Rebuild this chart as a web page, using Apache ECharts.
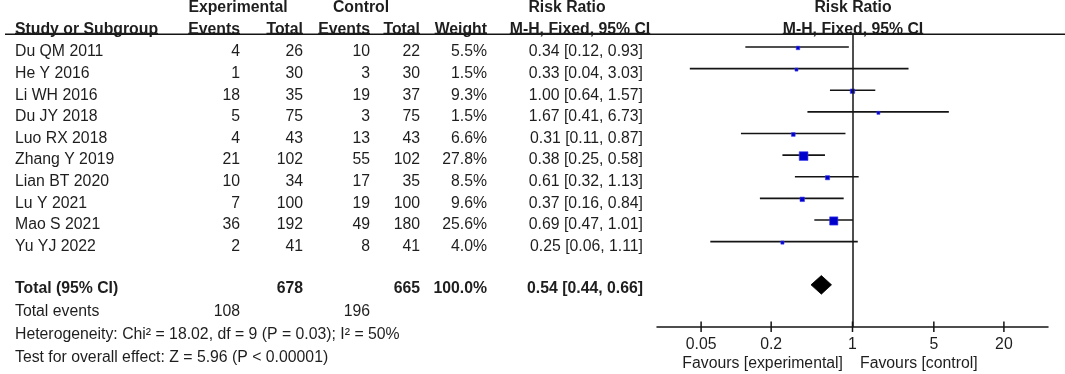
<!DOCTYPE html>
<html><head><meta charset="utf-8">
<script src="https://cdn.jsdelivr.net/npm/echarts@6/dist/echarts.min.js"></script>
<style>html,body{margin:0;padding:0;background:#fff}#c{width:1065px;height:374px}</style>
</head><body><div id="c"></div>
<script>
// ---------- data ----------
const studies = ['Du QM 2011','He Y 2016','Li WH 2016','Du JY 2018','Luo RX 2018','Zhang Y 2019','Lian BT 2020','Lu Y 2021','Mao S 2021','Yu YJ 2022'];
const expEvents = [4,1,18,5,4,21,10,7,36,2];
const expTotal = [26,30,35,75,43,102,34,100,192,41];
const ctrlEvents = [10,3,19,3,13,55,17,19,49,8];
const ctrlTotal = [22,30,37,75,43,102,35,100,180,41];
const weights = [5.5,1.5,9.3,1.5,6.6,27.8,8.5,9.6,25.6,4.0];
const riskRatio = [0.34,0.33,1.00,1.67,0.31,0.38,0.61,0.37,0.69,0.25];
const ciLow = [0.12,0.04,0.64,0.41,0.11,0.25,0.32,0.16,0.47,0.06];
const ciHigh = [0.93,3.03,1.57,6.73,0.87,0.58,1.13,0.84,1.01,1.11];
const totalRR = 0.54, totalLow = 0.44, totalHigh = 0.66;
const totalExpN = 678, totalCtrlN = 665, totalWeight = '100.0%';
const totalExpEvents = 108, totalCtrlEvents = 196;
const heterogeneityText = 'Heterogeneity: Chi² = 18.02, df = 9 (P = 0.03); I² = 50%';
const overallText = 'Test for overall effect: Z = 5.96 (P < 0.00001)';
const axisTicks = [0.05, 0.2, 1, 5, 20];
const axisTickLabels = ['0.05', '0.2', '1', '5', '20'];
const favoursLeft = 'Favours [experimental]';
const favoursRight = 'Favours [control]';

// ---------- style / layout ----------
const FONT = '"Liberation Sans", Arial, Helvetica, sans-serif';
const FS = 15.8;
const TXT = '#1e1e1e';
const BOX = '#0000CD';
const LINE = '#141414';
const fmtCI = (m, l, h) => m.toFixed(2) + ' [' + l.toFixed(2) + ', ' + h.toFixed(2) + ']';
const fontOf = bold => (bold ? 'bold ' : '') + FS + 'px ' + FONT;
const measureCtx = document.createElement('canvas').getContext('2d');
function textWidth(t, bold) { measureCtx.font = fontOf(bold); return measureCtx.measureText(t).width; }

// columns (table coordinate system x = pixel-like)
const COL = {name:15, expE:240, expN:303, ctrlE:370, ctrlN:420, w:487, ci:643, ciHead:580, rrHead:567, expHead:238, ctrlHead:361, forest:853};
// text rows
const R_HEAD1 = -2.035, R_HEAD2 = -1.04;
const R_TOTAL = 10.93, R_EVENTS = 12.03, R_HET = 13.06, R_TEST = 14.12, R_FAV = 14.4;

const cells = [];
function add(x, r, text, align, bold, underline) { cells.push({x, r, text: String(text), align, bold: !!bold, underline: !!underline}); }
// headers
add(COL.expHead, R_HEAD1, 'Experimental', 'center', true);
add(COL.ctrlHead, R_HEAD1, 'Control', 'center', true);
add(COL.rrHead, R_HEAD1, 'Risk Ratio', 'center', true);
add(COL.forest, R_HEAD1, 'Risk Ratio', 'center', true);
add(COL.name, R_HEAD2, 'Study or Subgroup', 'left', true, true);
add(COL.expE, R_HEAD2, 'Events', 'right', true, true);
add(COL.expN, R_HEAD2, 'Total', 'right', true, true);
add(COL.ctrlE, R_HEAD2, 'Events', 'right', true, true);
add(COL.ctrlN, R_HEAD2, 'Total', 'right', true, true);
add(COL.w, R_HEAD2, 'Weight', 'right', true, true);
add(COL.ciHead, R_HEAD2, 'M-H, Fixed, 95% CI', 'center', true, true);
add(COL.forest, R_HEAD2, 'M-H, Fixed, 95% CI', 'center', true, true);
// rows
studies.forEach((s, i) => {
  add(COL.name, i, s, 'left');
  add(COL.expE, i, expEvents[i], 'right');
  add(COL.expN, i, expTotal[i], 'right');
  add(COL.ctrlE, i, ctrlEvents[i], 'right');
  add(COL.ctrlN, i, ctrlTotal[i], 'right');
  add(COL.w, i, weights[i].toFixed(1) + '%', 'right');
  add(COL.ci, i, fmtCI(riskRatio[i], ciLow[i], ciHigh[i]), 'right');
});
add(COL.name, R_TOTAL, 'Total (95% CI)', 'left', true);
add(COL.expN, R_TOTAL, totalExpN, 'right', true);
add(COL.ctrlN, R_TOTAL, totalCtrlN, 'right', true);
add(COL.w, R_TOTAL, totalWeight, 'right', true);
add(COL.ci, R_TOTAL, fmtCI(totalRR, totalLow, totalHigh), 'right', true);
add(COL.name, R_EVENTS, 'Total events', 'left');
add(COL.expE, R_EVENTS, totalExpEvents, 'right');
add(COL.ctrlE, R_EVENTS, totalCtrlEvents, 'right');
add(COL.name, R_HET, heterogeneityText, 'left');
add(COL.name, R_TEST, overallText, 'left');
add(COL.forest - 10, R_FAV, favoursLeft, 'right');
add(COL.forest + 7, R_FAV, favoursRight, 'left');

function textEl(x, y, text, align, bold) {
  return {type:'text', x, y, style:{text, align, verticalAlign:'middle', fill:TXT, font:fontOf(bold)}};
}

const chart = echarts.init(document.getElementById('c'), null, {renderer:'canvas'});
const yMaxForest = 12.95;
const TOTAL_ROW = studies.length + 1;

const option = {
  backgroundColor:'#fff',
  animation:false,
  grid:[
    {left:657, right:17, top:34, bottom:47},
    {left:0, right:0, top:0, bottom:0}
  ],
  xAxis:[
    {type:'log', logBase:10, gridIndex:0, min:Math.pow(10,-1.68), max:Math.pow(10,1.68),
     axisLine:{show:true, onZero:false, lineStyle:{color:LINE, width:1.5}},
     axisTick:{show:false}, axisLabel:{show:false}, splitLine:{show:false}},
    {type:'value', gridIndex:1, min:0, max:1065, show:false}
  ],
  yAxis:[
    {type:'value', gridIndex:0, inverse:true, min:-0.6, max:yMaxForest, show:false},
    {type:'value', gridIndex:1, inverse:true, min:-2.405, max:14.893, show:false}
  ],
  graphic:[
    {type:'line', shape:{x1:5, y1:34.2, x2:1065, y2:34.2}, style:{stroke:LINE, lineWidth:1.6}, z:1}
  ],
  series:[
    {
      type:'custom', name:'studies', xAxisIndex:0, yAxisIndex:0,
      data: riskRatio.map((v, i) => [ciLow[i], ciHigh[i], v, i, weights[i]]),
      encode:{x:[0,1,2], y:3},
      renderItem(params, api) {
        const r = api.value(3);
        const a = api.coord([api.value(0), r]);
        const b = api.coord([api.value(1), r]);
        const c = api.coord([api.value(2), r]);
        const s = Math.max(3, 2.2 + 0.235 * api.value(4));
        return {type:'group', children:[
          {type:'line', shape:{x1:a[0], y1:a[1], x2:b[0], y2:b[1]}, style:{stroke:LINE, lineWidth:1.6}},
          {type:'rect', shape:{x:c[0]-s/2, y:c[1]-s/2+1, width:s, height:s}, style:{fill:BOX, stroke:'#3a3aee', lineWidth:0.6}}
        ]};
      },
      markLine:{silent:true, symbol:'none', label:{show:false},
        lineStyle:{color:LINE, width:1.5, type:'solid'}, data:[{xAxis:1}]}
    },
    {
      type:'custom', name:'total', xAxisIndex:0, yAxisIndex:0,
      data:[[totalLow, totalHigh, totalRR, TOTAL_ROW]],
      encode:{x:[0,1,2], y:3},
      renderItem(params, api) {
        const r = api.value(3);
        const a = api.coord([api.value(0), r]);
        const b = api.coord([api.value(1), r]);
        const c = api.coord([api.value(2), r]);
        const h = 9.3;
        return {type:'polygon', shape:{points:[[a[0], c[1]], [c[0], c[1]-h], [b[0], c[1]], [c[0], c[1]+h]]},
          style:{fill:'#000', stroke:'#000', lineWidth:0.8}};
      }
    },
    {
      type:'custom', name:'ticks', xAxisIndex:0, yAxisIndex:0,
      data: axisTicks.map((v, i) => [v, yMaxForest, i]),
      encode:{x:0, y:1},
      renderItem(params, api) {
        const p = api.coord([api.value(0), api.value(1)]);
        return {type:'group', children:[
          {type:'line', shape:{x1:p[0], y1:p[1]-5.5, x2:p[0], y2:p[1]+5}, style:{stroke:LINE, lineWidth:1.5}},
          textEl(p[0], p[1] + 17.5, axisTickLabels[api.value(2)], 'center', false)
        ]};
      }
    },
    {
      type:'custom', name:'table', xAxisIndex:1, yAxisIndex:1,
      data: cells.map(c => [c.x, c.r]),
      encode:{x:0, y:1},
      renderItem(params, api) {
        const c = cells[params.dataIndex];
        const p = api.coord([api.value(0), api.value(1)]);
        const t = textEl(p[0], p[1], c.text, c.align, c.bold);
        if (!c.underline) return t;
        const w = textWidth(c.text, c.bold);
        const x0 = c.align === 'left' ? p[0] : c.align === 'right' ? p[0] - w : p[0] - w / 2;
        return {type:'group', children:[t,
          {type:'line', shape:{x1:x0, y1:p[1]+4, x2:x0+w, y2:p[1]+4}, style:{stroke:TXT, lineWidth:1.3}}]};
      }
    }
  ]
};
chart.setOption(option);
</script>
</body></html>
